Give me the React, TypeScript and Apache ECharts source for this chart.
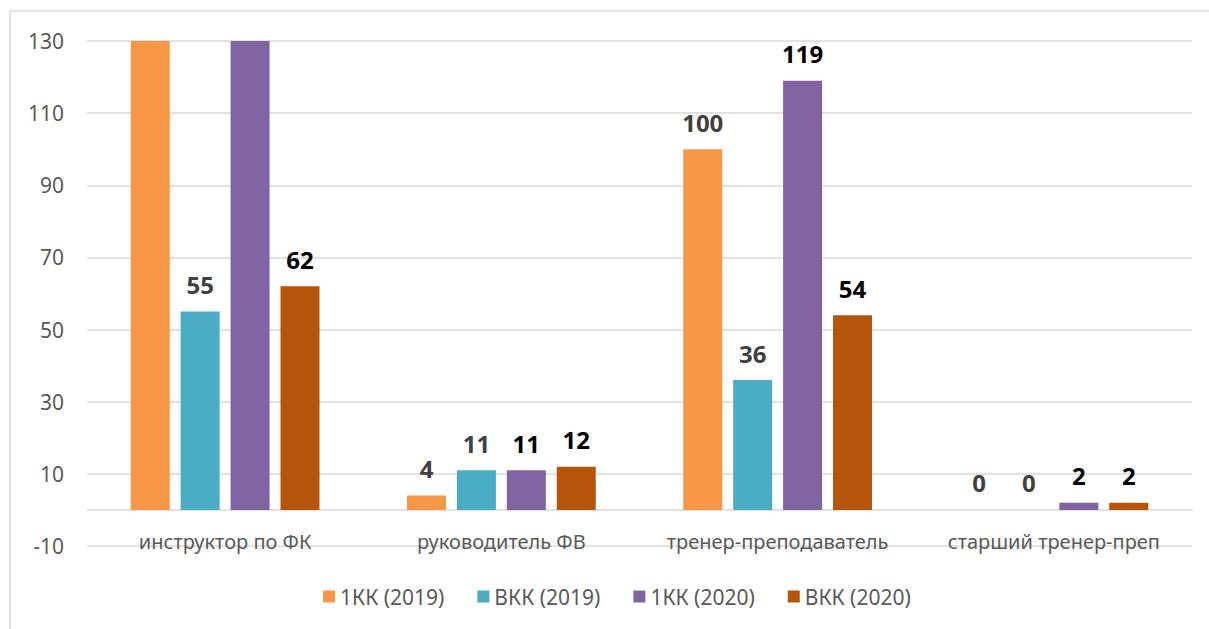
import React, { useEffect, useRef } from "react";
import * as echarts from "echarts";

const categories = ["инструктор по ФК", "руководитель ФВ", "тренер-преподаватель", "старший тренер-преп"];
const seriesNames = ["1КК (2019)", "ВКК (2019)", "1КК (2020)", "ВКК (2020)"];
const kk1_2019 = [160, 4, 100, 0];
const vkk_2019 = [55, 11, 36, 0];
const kk1_2020 = [170, 11, 119, 2];
const vkk_2020 = [62, 12, 54, 2];
const colors = ["#F79646", "#4BACC6", "#8064A2", "#B5550B"];
const labelColors = ["#404040", "#404040", "#000000", "#000000"];
const yMin = -10;
const yMax = 130;
const yInterval = 20;

const FONT = "'Noto Sans', 'Open Sans', sans-serif";

export default function App() {
  const ref = useRef<HTMLDivElement>(null);
  useEffect(() => {
    if (!ref.current) return;
    const chart = echarts.init(ref.current, null, { renderer: "svg" });
    const allData = [kk1_2019, vkk_2019, kk1_2020, vkk_2020];
    const series = allData.map((arr, i) => ({
      name: seriesNames[i],
      type: "bar",
      barWidth: 39,
      barGap: "28%",
      itemStyle: { color: colors[i] },
      label: {
        show: true,
        position: "top",
        distance: 15,
        fontSize: 24,
        fontWeight: "bold",
        fontFamily: FONT,
        color: labelColors[i],
      },
      data: arr.map((v) =>
        v > yMax ? { value: v, label: { show: false } } : { value: v }
      ),
    }));
    chart.setOption({
      animation: false,
      backgroundColor: "#ffffff",
      textStyle: { fontFamily: FONT },
      graphic: [
        { type: "line", shape: { x1: 10, y1: 11, x2: 1209, y2: 11 }, style: { stroke: "#d9d9d9", lineWidth: 1.5 } },
        { type: "line", shape: { x1: 10, y1: 11, x2: 10, y2: 629 }, style: { stroke: "#d9d9d9", lineWidth: 1.5 } },
      ],
      grid: { left: 87, right: 17, top: 41, bottom: 83, containLabel: false },
      legend: {
        left: 323,
        top: 586,
        padding: 0,
        icon: "rect",
        itemWidth: 12,
        itemHeight: 12,
        itemGap: 33,
        textStyle: { fontSize: 21, color: "#595959", fontFamily: FONT },
        data: seriesNames,
      },
      xAxis: {
        type: "category",
        data: categories,
        axisLine: { onZero: true, lineStyle: { color: "#d9d9d9", width: 1.5 } },
        axisTick: { show: false },
        axisLabel: { interval: 0, fontSize: 20, color: "#595959", margin: -15, fontFamily: FONT },
      },
      yAxis: {
        type: "value",
        min: yMin,
        max: yMax,
        interval: yInterval,
        axisLine: { show: false },
        axisTick: { show: false },
        splitLine: { lineStyle: { color: "#d9d9d9", width: 1.5 } },
        axisLabel: { fontSize: 21, color: "#595959", margin: 23, fontFamily: FONT },
      },
      series,
    });
    return () => chart.dispose();
  }, []);
  return (
    <div
      ref={ref}
      style={{ position: "fixed", left: 0, top: 0, width: 1209, height: 629, background: "#fff" }}
    />
  );
}
